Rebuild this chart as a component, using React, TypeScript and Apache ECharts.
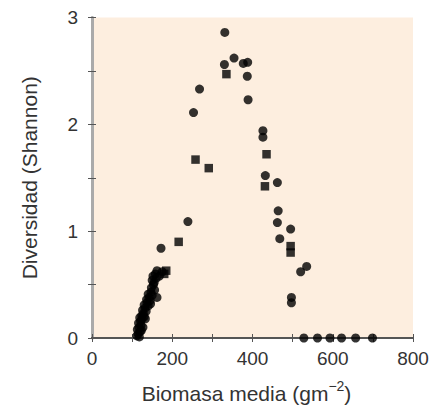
import React, { useEffect, useRef } from "react";
import * as echarts from "echarts";

// Circle markers [biomass, diversity]
const circlePoints: number[][] = [
  [331, 2.86], [354, 2.62], [330, 2.56], [377, 2.57], [388, 2.58], [387, 2.45],
  [268, 2.33], [389, 2.23], [253, 2.11], [426, 1.94], [426, 1.88], [432, 1.52],
  [462, 1.455], [464, 1.19], [462, 1.08], [495, 1.02], [468, 0.93],
  [520, 0.62], [535, 0.67], [497, 0.38], [497, 0.33],
  [528, 0], [562, 0], [593, 0], [622, 0], [657, 0], [699, 0],
  [239, 1.09], [172, 0.84],
  [112, 0.02], [115, 0.04], [118, 0.01], [120, 0.06], [113, 0.08], [117, 0.10],
  [122, 0.12], [116, 0.14], [121, 0.16], [125, 0.18], [119, 0.19], [124, 0.21],
  [128, 0.23], [130, 0.20], [126, 0.26], [132, 0.28], [135, 0.25], [130, 0.31],
  [137, 0.33], [140, 0.30], [136, 0.36], [142, 0.38], [145, 0.35], [140, 0.41],
  [147, 0.43], [150, 0.40], [148, 0.47], [153, 0.50], [150, 0.54], [155, 0.52],
  [152, 0.58], [158, 0.60], [162, 0.63], [168, 0.58], [175, 0.62], [160, 0.56],
  [156, 0.45], [162, 0.38], [146, 0.32], [133, 0.18], [123, 0.07], [127, 0.10]
];

// Square markers [biomass, diversity]
const squarePoints: number[][] = [
  [335, 2.47], [435, 1.72], [258, 1.67], [291, 1.59], [431, 1.42],
  [495, 0.86], [495, 0.80], [216, 0.90], [185, 0.63], [180, 0.60]
];

const xTicks = [0, 200, 400, 600, 800];
const yTicks = [0, 1, 2, 3];

const FONT = "Liberation Sans";

export default function App() {
  const ref = useRef<HTMLDivElement>(null);
  useEffect(() => {
    if (!ref.current) return;
    const chart = echarts.init(ref.current, null, { renderer: "svg" });
    const tickStyle = { show: true, inside: true, length: 4, lineStyle: { color: "#555", width: 1 } };
    chart.setOption({
      animation: false,
      backgroundColor: "#ffffff",
      grid: { left: 84, right: 32, top: 9, bottom: 72, show: true, backgroundColor: "#fdeedf", borderWidth: 0 },
      xAxis: [
        {
          type: "value", min: 0, max: 800, interval: 100, position: "bottom",
          axisLine: { show: true, lineStyle: { color: "#555", width: 2 } },
          axisTick: tickStyle,
          splitLine: { show: false },
          axisLabel: {
            margin: 11, fontSize: 19, color: "#333", fontFamily: FONT,
            formatter: (v: number) => (xTicks.includes(v) ? String(v) : "")
          },
          name: "Biomasa media (gm{sup|−2})",
          nameLocation: "middle", nameGap: 41,
          nameTextStyle: {
            fontSize: 21, color: "#333", fontFamily: FONT, padding: [0, 12, 0, 0],
            rich: { sup: { fontSize: 14, color: "#333", fontFamily: FONT, verticalAlign: "top", padding: [0, 0, 14, 0] } }
          }
        },
        {
          type: "value", min: 0, max: 800, interval: 100, position: "top",
          axisLine: { show: true, lineStyle: { color: "#555", width: 2 } },
          axisTick: tickStyle,
          axisLabel: { show: false },
          splitLine: { show: false }
        }
      ],
      yAxis: [
        {
          type: "value", min: 0, max: 3, interval: 0.5, position: "left",
          axisLine: { show: true, lineStyle: { color: "#555", width: 2 } },
          axisTick: tickStyle,
          splitLine: { show: false },
          axisLabel: {
            margin: 14, fontSize: 19, color: "#333", fontFamily: FONT,
            formatter: (v: number) => (yTicks.includes(v) ? String(v) : "")
          },
          name: "Diversidad (Shannon)",
          nameLocation: "middle", nameGap: 52,
          nameTextStyle: { fontSize: 21, color: "#333", fontFamily: FONT }
        },
        {
          type: "value", min: 0, max: 3, interval: 0.5, position: "right",
          axisLine: { show: true, lineStyle: { color: "#aaa", width: 3 } },
          axisTick: tickStyle,
          axisLabel: { show: false },
          splitLine: { show: false }
        }
      ],
      series: [
        {
          type: "scatter", xAxisIndex: 0, yAxisIndex: 0,
          symbol: "circle", symbolSize: 9,
          itemStyle: { color: "#000" },
          data: circlePoints
        },
        {
          type: "scatter", xAxisIndex: 0, yAxisIndex: 0,
          symbol: "rect", symbolSize: 8.5,
          itemStyle: { color: "#000" },
          data: squarePoints
        }
      ]
    });
    return () => chart.dispose();
  }, []);
  return <div ref={ref} style={{ width: 437, height: 402 }} />;
}
